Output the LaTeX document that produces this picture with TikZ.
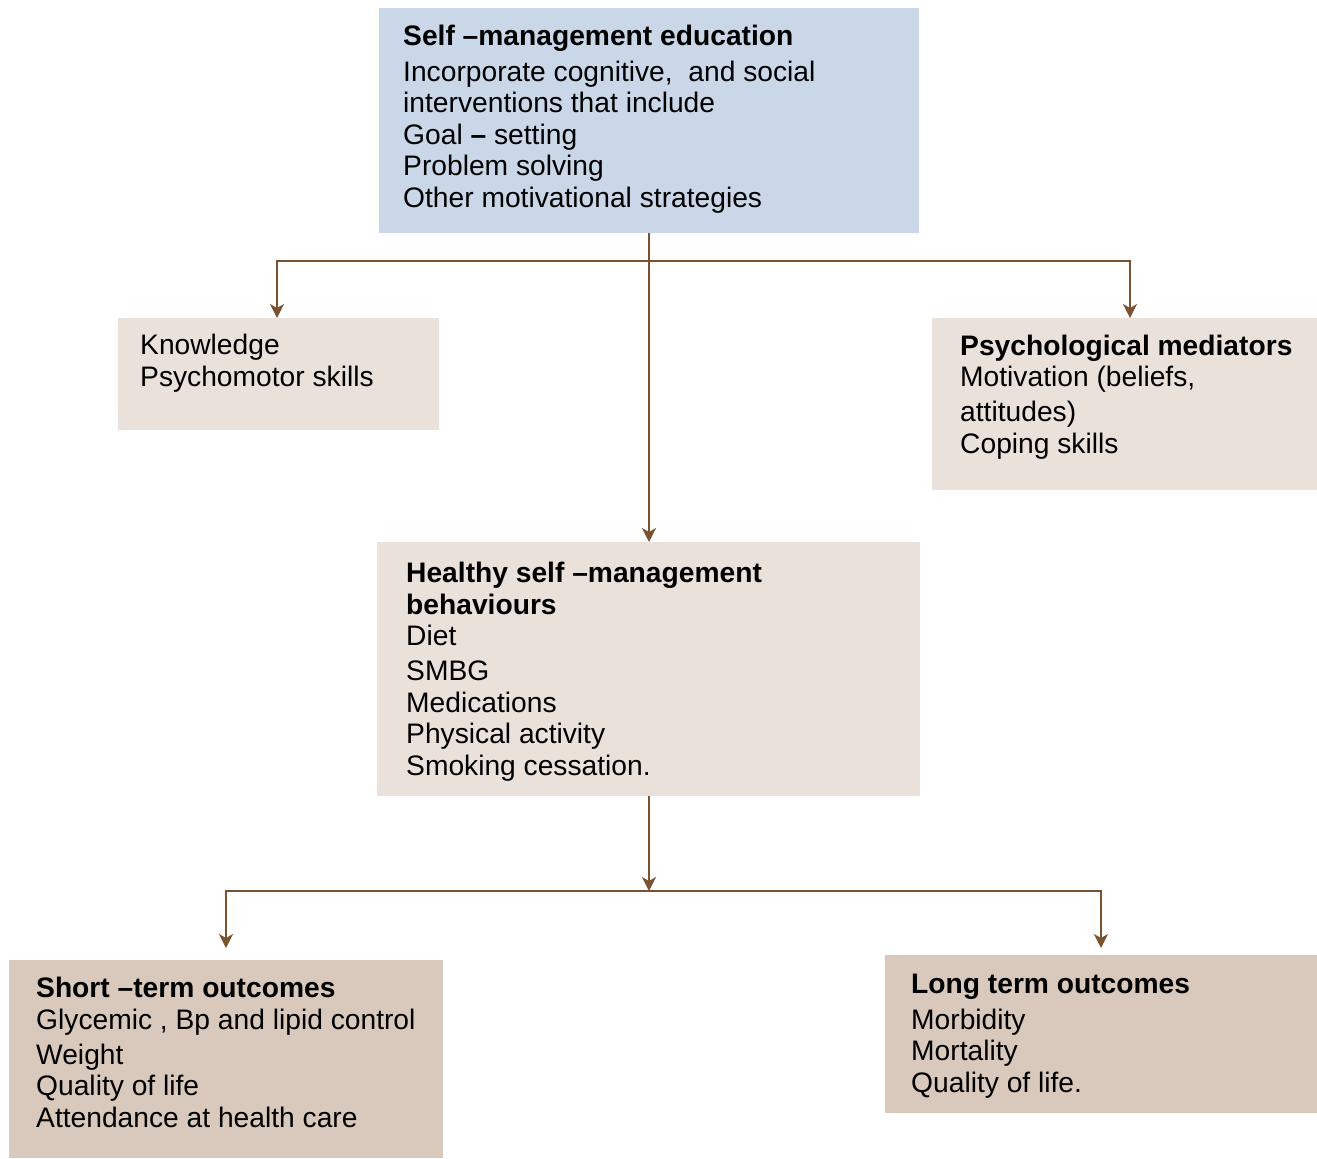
\documentclass[tikz,border=0pt]{standalone}
\usepackage{fontspec}
\setmainfont{Liberation Sans}
\usetikzlibrary{arrows.meta}
\definecolor{bluebox}{HTML}{C9D7E8}
\definecolor{lightbox}{HTML}{EAE1DB}
\definecolor{darkbox}{HTML}{D8C9BC}
\definecolor{arrowc}{HTML}{7A5230}
\begin{document}
\begin{tikzpicture}[x=1pt,y=-1pt,
  box/.style={draw=none, rectangle, inner sep=0pt, anchor=north west},
  txt/.style={anchor=base west, align=left, inner sep=0pt, text=black,
    font=\fontsize{28.2}{31.5}\selectfont},
  arr/.style={draw=arrowc, line width=1.6pt, -{Stealth[length=14pt,width=14pt,inset=4pt]}},
  ln/.style={draw=arrowc, line width=1.6pt}]
\useasboundingbox (0,0) rectangle (1317,1159);
% boxes
\node[box, fill=bluebox, minimum width=540pt, minimum height=225pt] (top) at (379,8) {};
\node[box, fill=lightbox, minimum width=321pt, minimum height=112pt] (know) at (118,318) {};
\node[box, fill=lightbox, minimum width=385pt, minimum height=172pt] (psych) at (932,318) {};
\node[box, fill=lightbox, minimum width=543pt, minimum height=254pt] (healthy) at (377,542) {};
\node[box, fill=darkbox, minimum width=434pt, minimum height=198pt] (short) at (9,960) {};
\node[box, fill=darkbox, minimum width=432pt, minimum height=158pt] (long) at (885,955) {};
% texts (anchored at the baseline of their last line)
\node[txt] (toptext) at (403,207) {\textbf{Self –management education}\\[4.5pt]
Incorporate cognitive,\ \ and social\\ interventions that include\\ Goal \textbf{–} setting\\ Problem solving\\ Other motivational strategies};
\node[txt] (knowtext) at (140,386) {Knowledge\\ Psychomotor skills};
\node[txt] (psychtext) at (960,453) {\textbf{Psychological mediators}\\ Motivation (beliefs,\\[3.5pt] attitudes)\\ Coping skills};
\node[txt] (healthytext) at (406,775) {\textbf{Healthy self –management}\\ \textbf{behaviours}\\ Diet\\[3.5pt] SMBG\\ Medications\\ Physical activity\\ Smoking cessation.};
\node[txt] (shorttext) at (36,1127) {\textbf{Short –term outcomes}\\ Glycemic , Bp and lipid control\\[3.5pt] Weight\\ Quality of life\\ Attendance at health care};
\node[txt] (longtext) at (911,1092) {\textbf{Long term outcomes}\\[4.5pt] Morbidity\\ Mortality\\ Quality of life.};
% connectors
\coordinate (j1) at (649,261);
\coordinate (j2) at (649,891);
\coordinate (kt) at (277,318);
\coordinate (pt) at (1130,318);
\coordinate (st) at (226,948);
\coordinate (lt) at (1101,948);
\draw[arr] (top.south -| j1) -- (healthy.north -| j1);
\draw[arr] (j1) -| (kt);
\draw[arr] (j1) -| (pt);
\draw[arr] (healthy.south -| j2) -- (j2);
\draw[arr] (j2) -| (st);
\draw[arr] (j2) -| (lt);
\end{tikzpicture}
\end{document}
